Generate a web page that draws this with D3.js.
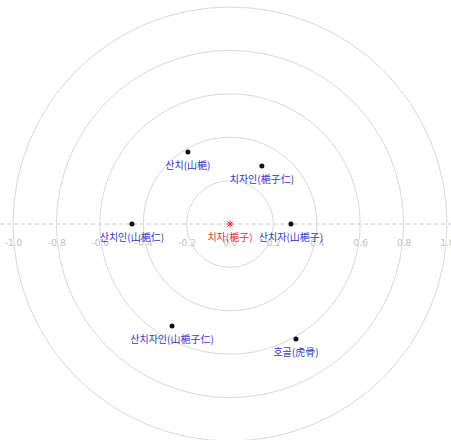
<!DOCTYPE html>
<html>
<head>
<meta charset="utf-8">
<script src="https://cdn.jsdelivr.net/npm/d3@7"></script>
<style>
  html, body { margin: 0; padding: 0; background: #fff; }
  svg { display: block; }
</style>
</head>
<body>
<svg id="chart" width="451" height="440"></svg>
<script>
// Herb names and their positions on the similarity plane
const names = ["치자(梔子)", "산치자(山梔子)", "산치인(山梔仁)", "산치(山梔)", "치자인(梔子仁)", "산치자인(山梔子仁)", "호골(虎骨)"];
const xs = [0, 0.281, -0.452, -0.194, 0.147, -0.267, 0.304];
const ys = [0, 0, 0, 0.332, 0.267, -0.47, -0.53];
const isCenter = [true, false, false, false, false, false, false];

// Ring radii and axis tick values
const rings = [0.2, 0.4, 0.6, 0.8, 1.0];
const tickValues = [-1.0, -0.8, -0.6, -0.4, -0.2, 0.0, 0.2, 0.4, 0.6, 0.8, 1.0];

const W = 451, H = 440;
const cx = 230, cy = 224, R = 217;

const x = d3.scaleLinear().domain([-1, 1]).range([cx - R, cx + R]);
const y = d3.scaleLinear().domain([-1, 1]).range([cy + R, cy - R]);

const svg = d3.select("#chart");

// dashed horizontal axis line
svg.append("line")
  .attr("x1", 0).attr("x2", W)
  .attr("y1", y(0)).attr("y2", y(0))
  .attr("stroke", "#c8c8c8")
  .attr("stroke-width", 1)
  .attr("stroke-dasharray", "4,3");

// tick labels along the horizontal axis (plain hyphen for negatives)
const fmt = d3.format(".1f");
const axis = d3.axisBottom(x)
  .tickValues(tickValues)
  .tickSize(0)
  .tickPadding(0)
  .tickFormat(d => fmt(d).replace("\u2212", "-"));

const gAxis = svg.append("g")
  .attr("transform", `translate(0,${y(0) + 16})`)
  .call(axis);
gAxis.select(".domain").remove();
gAxis.selectAll("text")
  .attr("fill", "#c0c0c0")
  .attr("font-family", "DejaVu Sans, sans-serif")
  .attr("font-size", 9)
  .attr("dy", "0.71em");

// concentric rings
svg.append("g").selectAll("circle")
  .data(rings)
  .join("circle")
  .attr("cx", x(0))
  .attr("cy", y(0))
  .attr("r", d => x(d) - x(0))
  .attr("fill", "none")
  .attr("stroke", "#d9d9d9")
  .attr("stroke-width", 1);

const pts = names.map((n, i) => ({ name: n, x: xs[i], y: ys[i], center: isCenter[i] }));

// point markers
const gPts = svg.append("g");
pts.forEach(p => {
  if (p.center) {
    const s = 3.5;
    const g = gPts.append("g")
      .attr("transform", `translate(${x(p.x)},${y(p.y)})`)
      .attr("stroke", "#e53030")
      .attr("stroke-width", 1);
    g.append("line").attr("x1", -s).attr("x2", s).attr("y1", 0).attr("y2", 0);
    g.append("line").attr("x1", 0).attr("x2", 0).attr("y1", -s).attr("y2", s);
    g.append("line").attr("x1", -s * 0.75).attr("x2", s * 0.75).attr("y1", -s * 0.75).attr("y2", s * 0.75);
    g.append("line").attr("x1", -s * 0.75).attr("x2", s * 0.75).attr("y1", s * 0.75).attr("y2", -s * 0.75);
  } else {
    gPts.append("circle")
      .attr("cx", x(p.x))
      .attr("cy", y(p.y))
      .attr("r", 2.5)
      .attr("fill", "#111");
  }
});

// labels under each point
svg.append("g").selectAll("text")
  .data(pts)
  .join("text")
  .attr("x", d => x(d.x))
  .attr("y", d => y(d.y) + 17)
  .attr("text-anchor", "middle")
  .attr("font-family", "'Noto Sans CJK KR', 'Noto Sans CJK SC', sans-serif")
  .attr("font-size", 10)
  .attr("fill", d => d.center ? "#e03535" : "#3535c8")
  .text(d => d.name);
</script>
</body>
</html>
